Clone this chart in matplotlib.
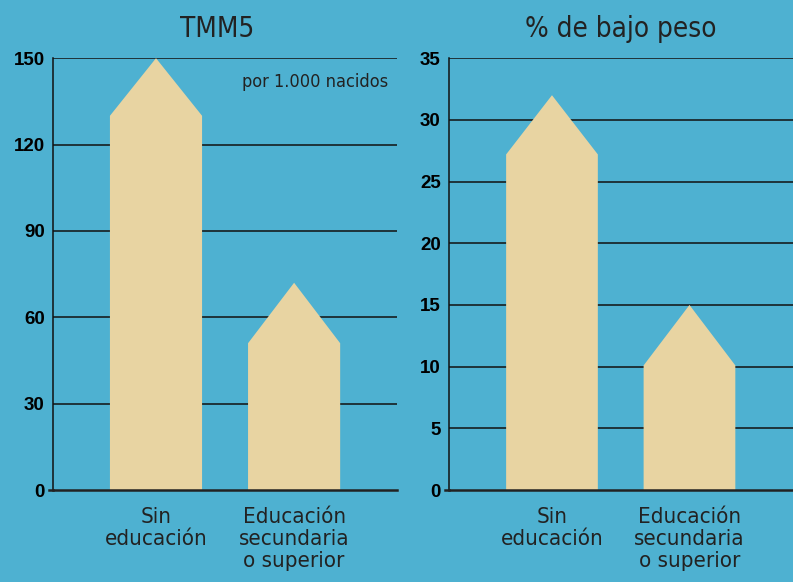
import matplotlib.pyplot as plt
from matplotlib.patches import Polygon
from matplotlib import font_manager

# ---------------------------------------------------------------------
# Data
# ---------------------------------------------------------------------

categories = ["Sin\neducación", "Educación\nsecundaria\no superior"]

tmm5_peak = [150, 72]
tmm5_shoulder = [130, 51]

lowweight_peak = [32, 15]
lowweight_shoulder = [27.2, 10.1]

tmm5_ticks = [0, 30, 60, 90, 120, 150]
lowweight_ticks = [0, 5, 10, 15, 20, 25, 30, 35]

# ---------------------------------------------------------------------
# Style
# ---------------------------------------------------------------------

BG = "#4EB1D1"
BAR = "#E8D4A2"
TEXT = "#222222"
BAR_WIDTH = 0.667

names = {f.name for f in font_manager.fontManager.ttflist}
if "Liberation Sans Narrow" in names:
    NARROW = dict(family=["Liberation Sans Narrow", "DejaVu Sans"])
else:
    NARROW = dict(family=["DejaVu Sans"], fontstretch="condensed")
TICKFONT = ["Liberation Sans", "DejaVu Sans"]

fig = plt.figure(figsize=(7.93, 5.82), dpi=100)
fig.patch.set_facecolor(BG)


def house_bars(ax, peaks, shoulders, ticks, title):
    ax.set_facecolor(BG)
    for i, (peak, shoulder) in enumerate(zip(peaks, shoulders)):
        half = BAR_WIDTH / 2
        verts = [
            (i - half, 0),
            (i - half, shoulder),
            (i, peak),
            (i + half, shoulder),
            (i + half, 0),
        ]
        ax.add_patch(Polygon(verts, closed=True, facecolor=BAR,
                             edgecolor="none", zorder=2))

    for t in ticks[1:]:
        ax.axhline(t, color="#111111", linewidth=1.1, zorder=1)

    ax.set_ylim(0, ticks[-1])
    ax.set_yticks(ticks)
    ax.set_yticklabels([str(t) for t in ticks], fontweight="bold",
                       fontsize=13.5, family=TICKFONT, color="black")
    ax.set_xticks(range(len(categories)))
    ax.set_xticklabels(categories, fontsize=16, color=TEXT,
                       linespacing=1.12, **NARROW)
    ax.tick_params(axis="y", length=0, pad=6)
    ax.tick_params(axis="x", length=0, pad=12)

    for side in ["top", "right"]:
        ax.spines[side].set_visible(False)
    ax.spines["left"].set_color("#111111")
    ax.spines["left"].set_linewidth(1.1)
    ax.spines["bottom"].set_color("#222222")
    ax.spines["bottom"].set_linewidth(1.8)

    # short stub of the baseline left of the y axis
    ax.plot([-0.012, 0], [0, 0], transform=ax.transAxes, color="#222222",
            linewidth=1.8, clip_on=False, zorder=3)

    ax.set_title(title, fontsize=20, color=TEXT, pad=15, **NARROW)


ax1 = fig.add_axes([0.0668, 0.158, 0.434, 0.742])
ax1.set_xlim(-0.746, 1.746)
house_bars(ax1, tmm5_peak, tmm5_shoulder, tmm5_ticks, "TMM5")
ax1.title.set_x(0.477)
ax1.text(0.975, 0.945, "por 1.000 nacidos", transform=ax1.transAxes,
         ha="right", va="center", fontsize=13, color=TEXT, **NARROW)

ax2 = fig.add_axes([0.5662, 0.158, 0.4338, 0.742])
ax2.set_xlim(-0.749, 1.753)
house_bars(ax2, lowweight_peak, lowweight_shoulder, lowweight_ticks,
           "% de bajo peso")

fig.savefig("out.png", dpi=100, facecolor=BG)
